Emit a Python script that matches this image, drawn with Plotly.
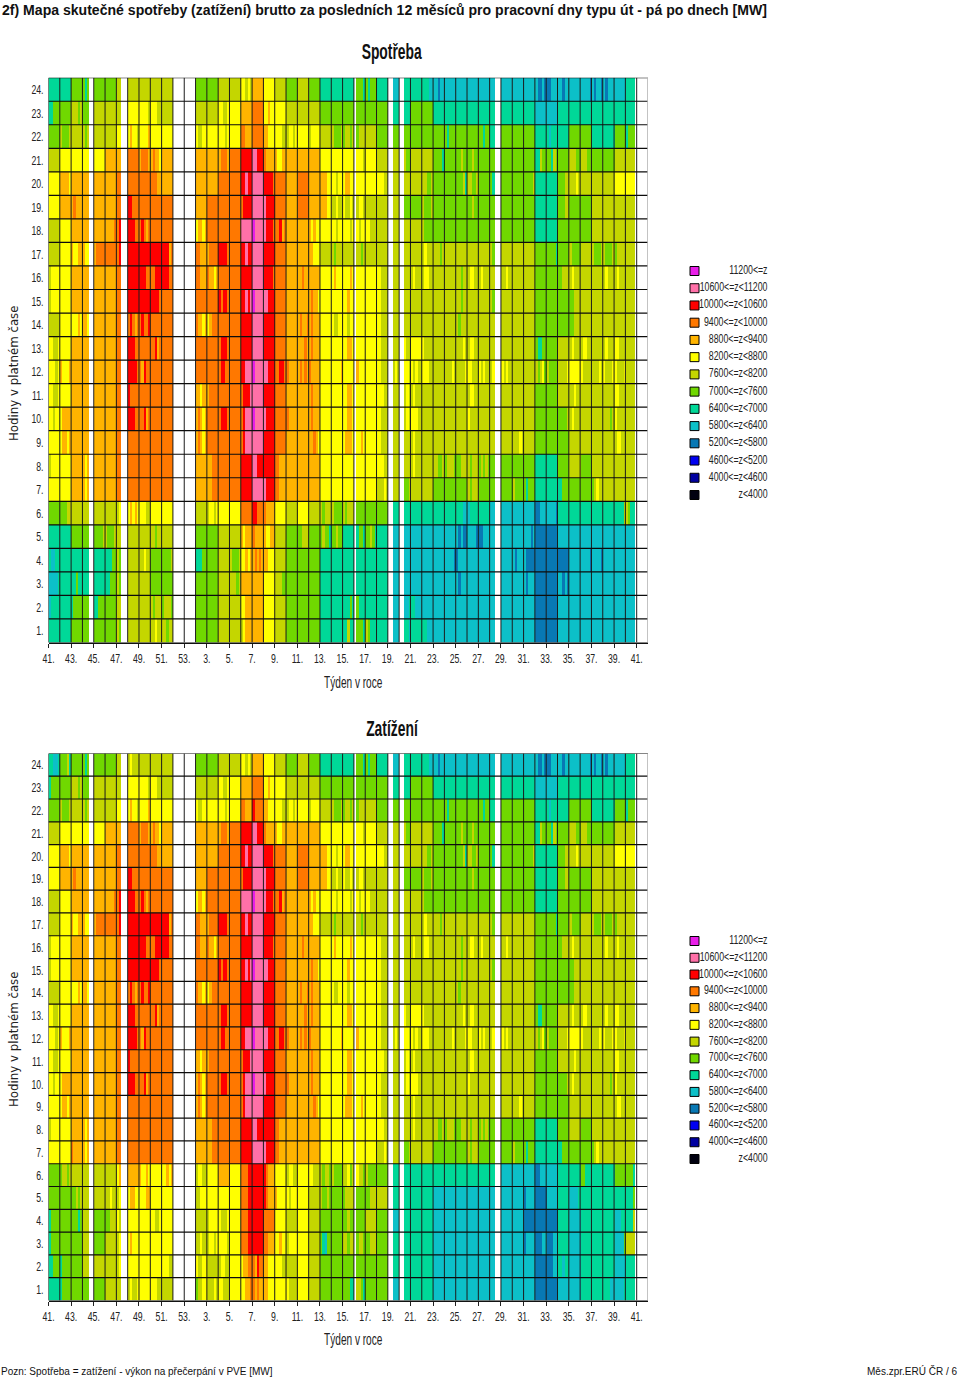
import plotly.graph_objects as go

W, H = 960, 1377
NARROW = "Liberation Sans Narrow, Liberation Sans, Arial"
SANS = "Liberation Sans, Arial"

WEEK_LABELS = ["41.", "43.", "45.", "47.", "49.", "51.", "53.", "3.", "5.", "7.", "9.", "11.", "13.", "15.",
               "17.", "19.", "21.", "23.", "25.", "27.", "29.", "31.", "33.", "35.", "37.", "39.", "41."]
HOUR_LABELS = [f"{h}." for h in range(1, 25)]

LEGEND_LABELS = ["11200<=z", "10600<=z<11200", "10000<=z<10600", "9400<=z<10000", "8800<=z<9400", "8200<=z<8800",
                 "7600<=z<8200", "7000<=z<7600", "6400<=z<7000", "5800<=z<6400", "5200<=z<5800", "4600<=z<5200",
                 "4000<=z<4600", "z<4000"]
LEGEND_COLORS = ["#e81ee8", "#ff70a8", "#ff0000", "#ff7800", "#ffb400", "#ffff00", "#c4d600", "#70d800", "#00d898",
                 "#0cc0c8", "#0878b4", "#0000f0", "#0000a0", "#000010"]

# class letter -> load in MW (mid-point of the legend class)
CLASS_MW = {"k": 3700, "n": 4300, "b": 4900, "t": 5500, "c": 6100, "s": 6700, "g": 7300, "l": 7900,
            "y": 8500, "a": 9100, "o": 9700, "r": 10300, "p": 10900, "m": 11500, "w": None}

# week index -> working days without data
NO_DATA = {3: [3, 4], 6: [2, 3, 4], 11: [0, 1, 2, 3, 4], 12: [0, 1, 2, 3, 4], 27: [0], 30: [0, 1], 31: [0, 1],
           39: [2, 3, 4], 51: [4], 52: [0, 1, 2, 3, 4]}

# Spotreba: one token per week (1 letter = whole week, 5 letters = per working day)
S24 = "s s g gsggg g g l l l l l w w g g l l yylyl a y l g l g s s  s ggggs gsggg s c s s ssscc cctcc c c c c c c c c cttct ttccc cctcc c cccct ctcct ctccc c s w"
S23 = "ssggg g lllgl g l l l y yyyyl yyyll l w w l l yylly y a o yyayy y l l l g g  g g g g s s g g s s s s s s s s s c c s s s s s s s w"
S22 = "g lgggl l lglll l l y yayyl yyyya y y w w yllyy y yyyly y ooaaa o aayyy yyyll lyyly y lyyyy l lgggl  gllgl lglll l g g g g g g gsggg g g ggsgg s g g g s scsss s g g s s g sgggs w"
S21 = "l y y y y a a o aoooa aoaay a w w a a aoooa o r pprrr oaaaa ayyaa a a a y y  y yyyyl y l l lllgg l l ggggs g gglgg gglgg g ggsgg g g g sslgg ggslg g lllgg lllgg g g l l w"
S20 = "y aaaay a aaayy a a o o o oooaa a w w a a o o rrprr p rrrro o a o a aaayy yylyy  yaayy y y yyyll l l l llggl g g gggls llggl g gslgg g g ggggl s s gggll lllyl l l l y yyyyl w"
S19 = "y a aoaaa a a a o rrooo o o o w w a o o o orrrr p prrrr o a o a aaayy llyll  yllyl llyyl l l l g g lgggl g g g gglgg g g g g g s s gggll g g l l l l w"
S18 = "l y a a a aaaao oroww rrroo oroao o o w w yaaya o o o p mpppp prrro oorao a a ayayy y yylyy  yyyly yylyy yylll l l l l lgggg g g g g g g g g g s s g g g l l l l w"
S17 = "l y ayyaa ayyww aoooo o orrww r r r rrrao w w ooaaa aoooo rrrro o rrprr p r o a a aayyy l lglll  l lllgl l l l l l lylll lllgl l l l l lglll l l l g ggggs g lgggg l lgggl lgggl gllll l w"
S16 = "lyyyy y a a a a o r rrroo oorrr rrroo w w ooaaa oaaya o o r p rrrro o a aaoaa a y yayyy  yyyay ayyyy y yylll l l lylll lyyll l l llgll lyyll lylll l llyll l l g g gglll lylll l l lylll lylll l w"
S15 = "lyyyy y a a a a o r r rrrro o w w o o rorro o rrprp mpppp pprrr o a a aoaay y y  yyayy ayyyy y yylll l l l l l l llgll l l lglll l l l g g g gglll l l l l l w"
S14 = "l y yyyay aayww a a o oroao oroor o o w w oaaya yaooo o o r p r o a aoaao aoaaa y yllyy  yylyy ayyyy y yylll l l l l l l lglll l l l l l l g g g gglll l l l l l w"
S13 = "yylly y a a a a o rrroo o oorao o w w o o orrro o r p r o a aaaoa aoaaa y y  yyaay y y yylll l yyyll y yllll l l lllyl lyyll l l l l l gssgg g l lylll lyyll l lylll yylll l w"
S12 = "yyyly ayyya a a a a o rrrro oaroo o o w w o o orroo o rrppp mpppp pprrr oorro oaaaa aoaoa oaaaa y yyyya  y yayyy y yylll lllyl yyyyl ylyll yyyll l lllyl lllly yylll ylyll lylll ylyll l l lglyg lgggg lllly y yllll lllyl yllly yllly l w"
S11 = "yylly y a a a a o roooo o o o w w aayaa aoooo o o orrrp p r o a a aoaaa y y  yyaay y y yyyll l lllyl lylll l l l l lyyll l l l l l g g l llyll l l l yylll l w"
S10 = "yylyy yaaaa a a a a o rrroo oorao o o w w aoaya o orrro o orppp mpppp prrrr o oaaaa a aoaaa y y  yyaay y y yylll l lllyl yyyll l l l l yllll l l l l l g g ggggl lylll l l lllgl yllll l w"
S9 = "y yaaya a a a a o o o o o w w aoaya o o o orppp p r o a a aaoay y y  yaaay yyyay y yylll l l lylll l l l l l l l l lllyl l g g g l l l l lyyll l w"
S8 = "lyyyy y a ayaww a a o o o o o w w a aaooo o o r pprrr r ooaaa a a a y y  y y y yyyll l l lylll l llggl glllg gglll lglll glglg gglww g g g s s g l g l l l l w"
S7 = "y y a ayaww a a o o o o o w w a aaooo o o r p prrrr ooaaa a a a y y  y y y lllyl l lgggl l l g g g lglll g gglww g lgggg gsggg s s ssggg g g glyll l l l w"
S6 = "g gggll l l l l lyyww yayay yyyll y y w w l lyyly y y o rrooo oaaaa y l y l lglll lgggg  lglll lgggg g g s s s s s s ssscc cssss s ccsww c c c ttccc cccct s s s s s ssssl lgsss w"
S5 = "s s g g ggggl lgggl l l l llgll l w w g g l l ayaaa oaaaa ayyaa l g gglll g glggs gglgg  s ssggs gglgs s c c c c c c ctctt cccct ttccc c c c ccctc t t c c c c c c c w"
S4 = "sccss s s s s sssgg lglll l llyll g ggggl w w sssgg g l lgggl yyaya aoaoa aayyy l g g g s s  s s s s c c c c c cccct tcccc c c c c ctccc ctttt t t t c cccct cccct c c c w"
S3 = "ccccs s ssgss s s ssggg lglll l l g g w w g g l lllgl a a y lllgg g g g s s  s s s s c c c c c c ctccc c c c c c ctccc t t cctct c c c c c c w"
S2 = "cssss s sgggg g ssggg g l l l lglll glllg w w g g l l yyaaa a y l g g g s s  sssgs sgsss s s c ccccs ssccc c c c c c c c c c c t t c c c c c c c w"
S1 = "s s g g g g lgggg l l llyll llgll w w g g l l lyaaa a y l g g g s s  sslss sgggs lgsss s c ssssc s ssccc c c c c c c c c c t t c c c c c c c w"

# Zatizeni: hours 1-6 differ from Spotreba, hours 7-24 only in a few weeks
Z6 = "g gllgl l l l l yaaww a ayyay y yyaya w w lyyll y a y ooorr r roaaa y lyyll y yylll lgllg lgggg  llygl lyllg lgggg g s s s s s s s s s s c c c ttccc c s s ggsss s s g gggss w"
Z5 = "g g gglgl l l llyll lyyww yaayy yyyaa y y w w llyyy y y y ooorr r roaaa ayyyy ylyyy y l lgglg g  gllll sgggg gglll l s s s s c c c c c c c c tcccc t c s ccccs s s s s sssgg w"
Z4 = "sgggg g gggsg l g gglll ylyww y y yylly y w w l lyyyy yllly y ooorr r o y l y l g g  gglgg sgggg l g c s s s c c c c c c c c t t t s c s s s cccss ssslg w"
Z3 = "sgggg g g l g l lyyww yayyy y y y w w llyll lyyly yyyyl y ooorr r ooaaa yyayy lyyyy y l gscgg g  llgll ggllg gglll g s s s s c c c c c c c c tcccc tttcc tttcc s c s s s ccccg l w"
Z2 = "ssggg sgggg g l l l lyyww y y y yyyll w w yllyy l lyyll y yaaoo oaroo aayyy yyyll l y l g g  g g g g s s s s c c c c c c c c c t tttcc sscss c s s s c s w"
Z1 = "s sgggg g g g l llyww lylly y yyyll l w w gllyy lllyl yylll y yyaao oaoaa aayyy y yllll y l g g  gggss gllgs g g c s s s c c c c c c c c c t t c c s s ssscc ccccs s w"
# hour -> {week index: token}
Z_PATCH_24 = {0: "ssccs", 1: "gggls", 7: "lylll"}
Z_PATCH_23 = {0: "sgggg"}
Z_PATCH_22 = {18: "roooo"}
Z_PATCH_7 = {2: "oaaaa"}

SPOTREBA_ROWS = [S1, S2, S3, S4, S5, S6, S7, S8, S9, S10, S11, S12, S13, S14, S15, S16, S17, S18, S19, S20, S21, S22, S23, S24]
ZATIZENI_ROWS = [Z1, Z2, Z3, Z4, Z5, Z6] + SPOTREBA_ROWS[6:]
PATCHES = {24: Z_PATCH_24, 23: Z_PATCH_23, 22: Z_PATCH_22, 7: Z_PATCH_7}
N_WEEKS = 53

_bad = [(n, h + 1, len(r.split())) for n, rows in (("S", SPOTREBA_ROWS), ("Z", ZATIZENI_ROWS))
        for h, r in enumerate(rows) if len(r.split()) != N_WEEKS]
assert not _bad, _bad


def expand(row, patch=None):
    tokens = row.split()
    for wk, tok in (patch or {}).items():
        tokens[wk] = tok
    out = []
    for wk, tok in enumerate(tokens):
        assert len(tok) in (1, 5), tok
        days = tok * 5 if len(tok) == 1 else tok
        out += [None if d in NO_DATA.get(wk, []) else CLASS_MW[days[d]] for d in range(5)]
    return out


z_spot = [expand(r) for r in SPOTREBA_ROWS]
z_zat = [expand(r, PATCHES.get(h + 1)) for h, r in enumerate(ZATIZENI_ROWS)]

# stepped colour scale: 14 classes of 600 MW
bins = list(reversed(LEGEND_COLORS))
colorscale = []
for i, c in enumerate(bins):
    colorscale += [[i / 14, c], [(i + 1) / 14, c]]

fig = go.Figure()


def ydom(top, bottom):
    return [(H - bottom) / H, (H - top) / H]


def xdom(left, right):
    return [left / W, right / W]


PANELS = [
    dict(z=z_spot, s="", top=77.7, bottom=642.5, leg=(271, 495)),
    dict(z=z_zat, s="2", top=753.4, bottom=1300.5, leg=(941, 1159)),
]
LEG_AX = {"": "3", "2": "4"}

for p in PANELS:
    s = p["s"]
    fig.add_trace(go.Heatmap(z=p["z"], x0=0.1, dx=0.2, y0=1, dy=1, zmin=3400, zmax=11800, colorscale=colorscale,
                             showscale=False, hoverongaps=False, xaxis="x" + s, yaxis="y" + s, zsmooth=False))
    # grid over the cells
    vx, vy, hx, hy = [], [], [], []
    for wk in range(0, N_WEEKS):
        vx += [wk, wk, None]
        vy += [0.5, 24.5, None]
    for r in range(0, 25):
        hx += [0, N_WEEKS, None]
        hy += [r + 0.5, r + 0.5, None]
    fig.add_trace(go.Scatter(x=vx, y=vy, mode="lines", line=dict(color="#1c1c1c", width=1), hoverinfo="skip",
                             showlegend=False, xaxis="x" + s, yaxis="y" + s))
    fig.add_trace(go.Scatter(x=hx, y=hy, mode="lines", line=dict(color="#0c0c0c", width=1.2), hoverinfo="skip",
                             showlegend=False, xaxis="x" + s, yaxis="y" + s))
    fig.add_trace(go.Scatter(x=[N_WEEKS, N_WEEKS], y=[0.5, 24.5], mode="lines", line=dict(color="#b4b4b4", width=1.6),
                             hoverinfo="skip", showlegend=False, xaxis="x" + s, yaxis="y" + s, cliponaxis=False))
    # legend panel
    a = LEG_AX[s]
    idx = list(range(len(LEGEND_LABELS)))
    fig.add_trace(go.Scatter(x=[9.5] * 14, y=idx, mode="markers", cliponaxis=False, showlegend=False, hoverinfo="skip",
                             marker=dict(symbol="square", size=9, color=LEGEND_COLORS, line=dict(color="#000", width=1)),
                             xaxis="x" + a, yaxis="y" + a))
    fig.add_trace(go.Scatter(x=[82.5] * 14, y=idx, mode="text", text=LEGEND_LABELS, textposition="middle left",
                             cliponaxis=False, showlegend=False, hoverinfo="skip",
                             textfont=dict(family=NARROW, size=12, color="#222"), xaxis="x" + a, yaxis="y" + a))

    xk = dict(domain=xdom(48.5, 648), range=[0, N_WEEKS], tickvals=[2 * i for i in range(len(WEEK_LABELS))],
              ticktext=WEEK_LABELS, ticks="outside", ticklen=4, tickcolor="#222", tickwidth=1,
              tickfont=dict(family=NARROW, size=13, color="#222"), showgrid=False, zeroline=False, showline=True,
              linecolor="#111", linewidth=1, anchor="y" + s, fixedrange=True, tickangle=0, ticklabelstandoff=0)
    yk = dict(domain=ydom(p["top"], p["bottom"]), range=[0.5, 24.5], tickvals=list(range(1, 25)), ticktext=HOUR_LABELS,
              ticks="", tickfont=dict(family=NARROW, size=13, color="#222"), showgrid=False, zeroline=False,
              showline=False, anchor="x" + s, fixedrange=True, ticklabelstandoff=4)
    fig.layout["xaxis" + s] = xk
    fig.layout["yaxis" + s] = yk
    fig.layout["xaxis" + a] = dict(domain=xdom(685, 770), range=[0, 85], visible=False, anchor="y" + a, fixedrange=True)
    fig.layout["yaxis" + a] = dict(domain=ydom(*p["leg"]), range=[13, 0], visible=False, anchor="x" + a, fixedrange=True)


def txt(x, y, s, font, size, anchor="left", color="#111", bold=False, angle=0):
    fig.add_annotation(xref="paper", yref="paper", x=x / W, y=1 - y / H, text=f"<b>{s}</b>" if bold else s,
                       showarrow=False, xanchor=anchor, yanchor="middle", textangle=angle, align=anchor,
                       font=dict(family=font, size=size, color=color), borderpad=0)


txt(1, 10, "2f) Mapa skutečné spotřeby (zatížení) brutto za posledních 12 měsíců pro pracovní dny typu út - pá po dnech [MW]",
    SANS, 14.07, bold=True)
txt(392, 52, "Spotřeba", NARROW, 22, "center", bold=True)
txt(392, 728, "Zatížení", NARROW, 22, "center", bold=True)
txt(353, 682, "Týden v roce", NARROW, 16, "center", color="#222")
txt(353, 1339, "Týden v roce", NARROW, 16, "center", color="#222")
txt(14, 373, "Hodiny v platném čase", "DejaVu Sans", 11.8, "center", color="#222", angle=-90)
txt(14, 1039, "Hodiny v platném čase", "DejaVu Sans", 11.8, "center", color="#222", angle=-90)
txt(0, 1371, "Pozn: Spotřeba = zatížení - výkon na přečerpání v PVE [MW]", SANS, 10)
txt(958, 1371, "Měs.zpr.ERÚ ČR / 6", SANS, 10, "right")

fig.update_layout(width=W, height=H, autosize=False, margin=dict(l=0, r=0, t=0, b=0, autoexpand=False),
                  paper_bgcolor="white", plot_bgcolor="white", showlegend=False)

# no narrow face is installed: condense the chart's narrow labels the way the original's font looks
CONDENSE = """
document.body.style.margin='0';
document.documentElement.style.overflow='hidden';
document.querySelectorAll('svg text').forEach(function(t){
  var f=t.style.fontFamily||'';
  if(f.indexOf('Narrow')<0) return;
  var sz=parseFloat(t.style.fontSize);
  var r=(sz===12)?0.73:(sz>=16?0.63:0.67);
  var n=t.getComputedTextLength();
  if(n>0){t.setAttribute('textLength',n*r);t.setAttribute('lengthAdjust','spacingAndGlyphs');}
});
"""
fig.write_html("out.html", post_script=CONDENSE, config={"displayModeBar": False})
